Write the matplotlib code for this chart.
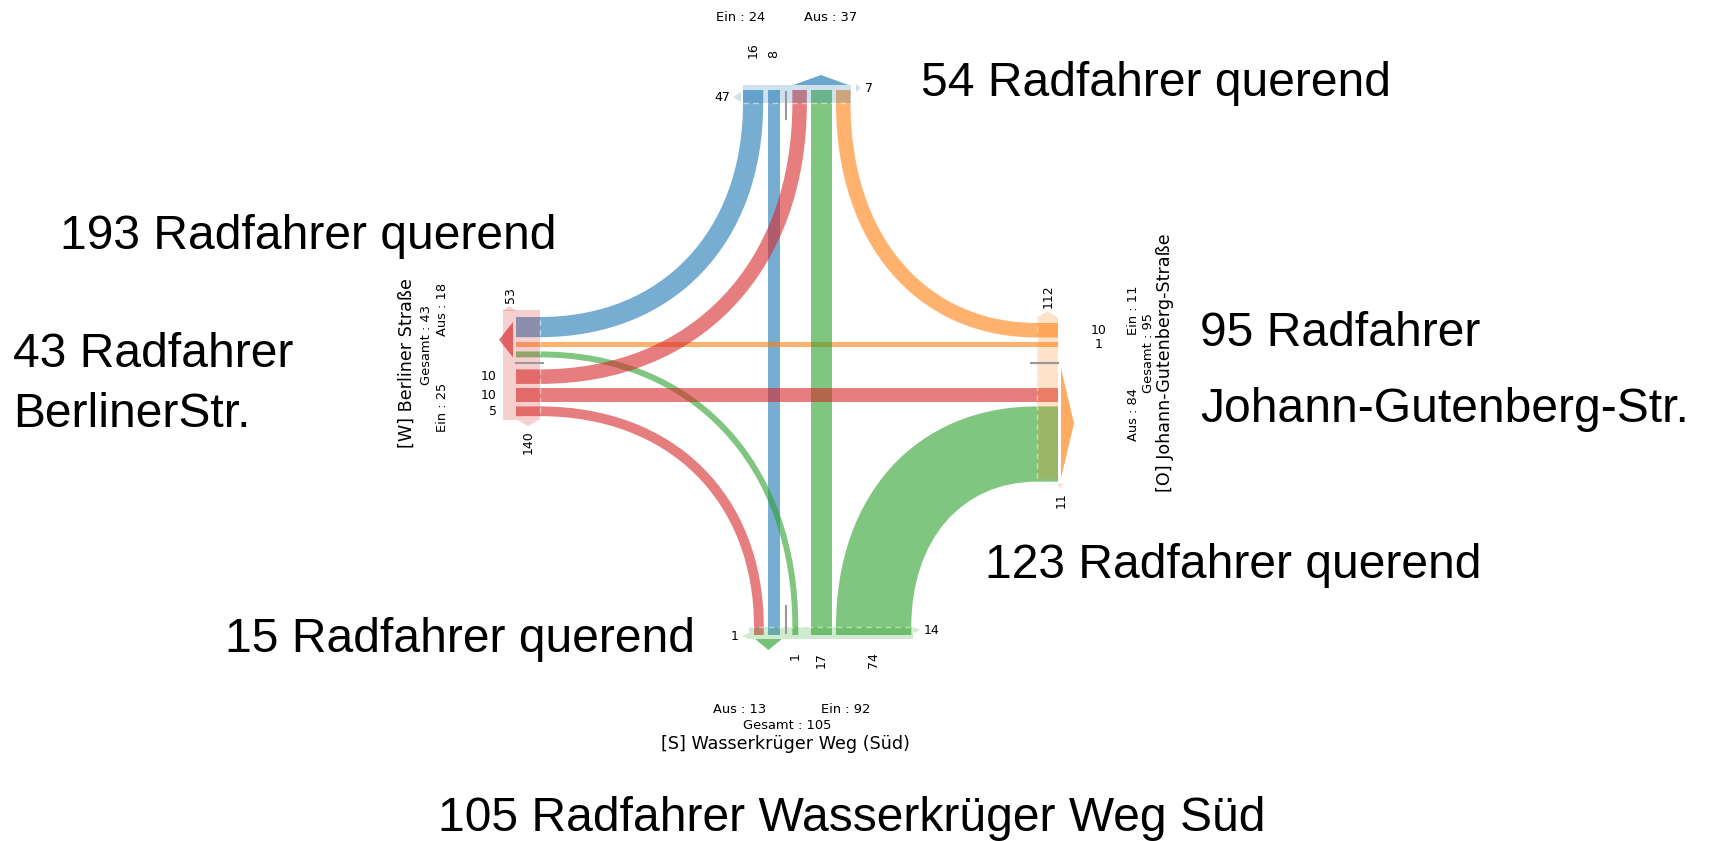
import matplotlib
matplotlib.use("Agg")
import matplotlib.pyplot as plt
from matplotlib.path import Path
from matplotlib.patches import PathPatch, Polygon, Rectangle

# ---------------- data ----------------
arm_codes = ["N", "W", "S", "O"]
arm_titles = ["", "[W] Berliner Straße", "[S] Wasserkrüger Weg (Süd)", "[O] Johann-Gutenberg-Straße"]
flow_src = ["N", "N", "W", "W", "W", "O", "O", "S", "S", "S"]
flow_dst = ["W", "S", "N", "O", "S", "N", "W", "W", "N", "O"]
flow_val = [16, 8, 10, 10, 5, 10, 1, 1, 17, 74]
side_count_1 = [47, 53, 1, 112]     # N left, W top, S left, O top
side_count_2 = [7, 140, 14, 11]     # N right, W bottom, S right, O bottom
note_counts = [54, 193, 43, 95, 123, 15, 105]
note_lines = [["Radfahrer querend"], ["Radfahrer querend"],
              ["Radfahrer", "BerlinerStr."], ["Radfahrer", "Johann-Gutenberg-Str."],
              ["Radfahrer querend"], ["Radfahrer querend"],
              ["Radfahrer Wasserkrüger Weg Süd"]]

# ---------------- layout ----------------
W_PX, H_PX = 1710, 841
fig = plt.figure(figsize=(W_PX / 100, H_PX / 100), dpi=100)
ax = fig.add_axes([0, 0, 1, 1])
ax.set_xlim(0, W_PX)
ax.set_ylim(H_PX, 0)
ax.axis("off")

plt.rcParams["font.family"] = ["DejaVu Sans"]

arm_color = {"N": "#1f77b4", "W": "#d62728", "S": "#2ca02c", "O": "#ff7f0e"}
opp = {"N": "S", "S": "N", "W": "O", "O": "W"}
vertical = {"N": True, "S": True, "W": False, "O": False}

slot_order = {
    "N": [("N", "W"), ("N", "S"), "U", ("W", "N"), ("S", "N"), ("O", "N")],
    "W": [("N", "W"), ("O", "W"), ("S", "W"), "U", ("W", "N"), ("W", "O"), ("W", "S")],
    "S": [("W", "S"), ("N", "S"), "U", ("S", "W"), ("S", "N"), ("S", "O")],
    "O": [("O", "N"), ("O", "W"), "U", ("W", "O"), ("S", "O")],
}
start = {"N": 743, "W": 317, "S": 754, "O": 323}
geo = {
    "N": dict(attach=90, inner=103, outer=85),
    "S": dict(attach=635, inner=627, outer=639),
    "W": dict(attach=516, inner=540, outer=503),
    "O": dict(attach=1058, inner=1037, outer=1058),
}
GAP, MARK_W = 4.0, 4.0


def width(v):
    return 5 + 0.95 * v


fidx = {(s, d): i for i, (s, d) in enumerate(zip(flow_src, flow_dst))}


def is_aligned(key):
    return key == "U" or opp[key[0]] == key[1]


pos = {a: {} for a in arm_codes}
for _ in range(4):
    for arm in arm_codes:
        cur = start[arm]
        for k, key in enumerate(slot_order[arm]):
            if k > 0:
                cur += GAP
            w = MARK_W if key == "U" else width(flow_val[fidx[key]])
            if is_aligned(key) and key in pos[opp[arm]]:
                cur = max(cur, pos[opp[arm]][key])
            pos[arm][key] = cur
            cur += w


def span(arm, key):
    a = pos[arm][key]
    w = MARK_W if key == "U" else width(flow_val[fidx[key]])
    return a, a + w


def pt(arm, c, which):
    v = geo[arm][which]
    return (c, v) if vertical[arm] else (v, c)


K = 0.6


def edge(A, ca, B, cb):
    pa_att, pa_in = pt(A, ca, "attach"), pt(A, ca, "inner")
    pb_in, pb_att = pt(B, cb, "inner"), pt(B, cb, "attach")
    C = (ca, cb) if vertical[A] else (cb, ca)
    p1 = (pa_in[0] + K * (C[0] - pa_in[0]), pa_in[1] + K * (C[1] - pa_in[1]))
    p2 = (pb_in[0] + K * (C[0] - pb_in[0]), pb_in[1] + K * (C[1] - pb_in[1]))
    return [pa_att, pa_in, p1, p2, pb_in, pb_att]


def flow_patch(i):
    A, B = flow_src[i], flow_dst[i]
    a0, a1 = span(A, (A, B))
    b0, b1 = span(B, (A, B))
    col = arm_color[A]
    if opp[A] == B:
        e1 = [pt(A, a0, "attach"), pt(B, b0, "attach")]
        e2 = [pt(A, a1, "attach"), pt(B, b1, "attach")]
        verts = e1 + e2[::-1] + [e1[0]]
        codes = [Path.MOVETO, Path.LINETO, Path.LINETO, Path.LINETO, Path.CLOSEPOLY]
    else:
        ca = geo[B]["inner"]
        cb = geo[A]["inner"]
        na, fa = (a0, a1) if abs(a0 - ca) < abs(a1 - ca) else (a1, a0)
        nb, fb = (b0, b1) if abs(b0 - cb) < abs(b1 - cb) else (b1, b0)
        e1 = edge(A, na, B, nb)
        e2 = edge(A, fa, B, fb)[::-1]
        verts = e1 + e2 + [e1[0]]
        codes = ([Path.MOVETO, Path.LINETO, Path.CURVE4, Path.CURVE4, Path.CURVE4, Path.LINETO] +
                 [Path.LINETO, Path.LINETO, Path.CURVE4, Path.CURVE4, Path.CURVE4, Path.LINETO] +
                 [Path.CLOSEPOLY])
    ax.add_patch(PathPatch(Path(verts, codes), facecolor=col, edgecolor="none", alpha=0.6, zorder=2))


for src in ["N", "O", "S", "W"]:
    for i in range(len(flow_val)):
        if flow_src[i] == src:
            flow_patch(i)

# ---------------- bands ----------------
band_pad = {"N": (0, 0.5), "W": (-7, 4), "S": (-5, 2), "O": (-6, -3)}
band = {}
for arm in arm_codes:
    keys = [k for k in slot_order[arm]]
    lo = min(span(arm, k)[0] for k in keys) + band_pad[arm][0]
    hi = max(span(arm, k)[1] for k in keys) + band_pad[arm][1]
    band[arm] = (lo, hi)
    o, inn = geo[arm]["outer"], geo[arm]["inner"]
    if vertical[arm]:
        r = Rectangle((lo, min(o, inn)), hi - lo, abs(inn - o))
        ax.plot([lo, hi], [inn, inn], color="white", lw=1, ls=(0, (4, 3)), alpha=0.5, zorder=3.5)
    else:
        r = Rectangle((min(o, inn), lo), abs(inn - o), hi - lo)
        ax.plot([inn, inn], [lo, hi], color="white", lw=1, ls=(0, (4, 3)), alpha=0.5, zorder=3.5)
    r.set_facecolor(arm_color[arm])
    r.set_alpha(0.22)
    r.set_edgecolor("none")
    r.set_zorder(3)
    ax.add_patch(r)

# ---------------- U-turn markers ----------------
for arm in arm_codes:
    a, b = span(arm, "U")
    c = (a + b) / 2
    att = geo[arm]["attach"]
    sgn = 1 if geo[arm]["inner"] > att else -1
    if vertical[arm]:
        ax.plot([c, c], [att + sgn * 2, att + sgn * 29], color="#999999", lw=1.5, zorder=4)
    else:
        ax.plot([att, att + sgn * 27], [c, c], color="#999999", lw=1.5, zorder=4)

# ---------------- outgoing arrows ----------------
tri_geo = {"N": (85, 75, 1, -2), "W": (513, 499, 5, 0), "S": (639, 650, 1, 1.5), "O": (1061, 1074, -19.6, -3.4)}
for arm in arm_codes:
    outs = [span(arm, (flow_src[i], arm)) for i in range(len(flow_val)) if flow_dst[i] == arm]
    lo = min(s[0] for s in outs) + tri_geo[arm][2]
    hi = max(s[1] for s in outs) + tri_geo[arm][3]
    base, apex = tri_geo[arm][0], tri_geo[arm][1]
    mid = (lo + hi) / 2
    if vertical[arm]:
        xy = [(lo, base), (hi, base), (mid, apex)]
    else:
        xy = [(base, lo), (base, hi), (apex, mid)]
    ax.add_patch(Polygon(xy, closed=True, facecolor=arm_color[arm], edgecolor="none", alpha=0.65, zorder=5))


# ---------------- small side arrows + counts ----------------
def small_tri(xy, arm):
    ax.add_patch(Polygon(xy, closed=True, facecolor=arm_color[arm], edgecolor="none", alpha=0.22, zorder=5))


fs_num = 9.0
# North
lo, hi = band["N"]
small_tri([(lo - 2, 92), (lo - 2, 102), (lo - 10, 97)], "N")
small_tri([(hi + 5, 84), (hi + 5, 92), (hi + 10, 88)], "N")
ax.text(lo - 13, 97, str(side_count_1[0]), ha="right", va="center", fontsize=fs_num)
ax.text(hi + 14, 88, str(side_count_2[0]), ha="left", va="center", fontsize=fs_num)
# West
lo, hi = band["W"]
small_tri([(503, lo + 1), (516, lo + 1), (509.5, lo - 4)], "W")
small_tri([(518, hi), (538, hi), (528, hi + 6)], "W")
ax.text(510, lo - 7, str(side_count_1[1]), rotation=90, ha="center", va="bottom", fontsize=fs_num)
ax.text(528, hi + 10, str(side_count_2[1]), rotation=90, ha="center", va="top", fontsize=fs_num)
# South
lo, hi = band["S"]
small_tri([(lo, 633), (lo, 639), (lo - 7, 636)], "S")
small_tri([(hi, 627), (hi, 633), (hi + 7, 630)], "S")
ax.text(lo - 10, 637, str(side_count_1[2]), ha="right", va="center", fontsize=fs_num)
ax.text(hi + 10, 631, str(side_count_2[2]), ha="left", va="center", fontsize=fs_num)
# East
lo, hi = band["O"]
small_tri([(1038, lo), (1057, lo), (1047.5, lo - 6)], "O")
small_tri([(1057, hi + 5), (1063, hi + 5), (1060, hi + 10)], "O")
ax.text(1048, lo - 9, str(side_count_1[3]), rotation=90, ha="center", va="bottom", fontsize=fs_num)
ax.text(1061, hi + 14, str(side_count_2[3]), rotation=90, ha="center", va="top", fontsize=fs_num)

# ---------------- inflow value labels ----------------
for i in range(len(flow_val)):
    arm = flow_src[i]
    a, b = span(arm, (arm, flow_dst[i]))
    c = (a + b) / 2
    s = str(flow_val[i])
    if arm == "N":
        ax.text(c, 58, s, rotation=90, ha="center", va="bottom", fontsize=fs_num)
    elif arm == "S":
        ax.text(c, 652, s, rotation=90, ha="center", va="top", fontsize=fs_num)
    elif arm == "W":
        ax.text(497, c, s, ha="right", va="center", fontsize=fs_num)
    else:
        ax.text(1099, c, s, ha="center", va="center", fontsize=fs_num)

# ---------------- arm statistics ----------------
ein = {a: sum(v for s, v in zip(flow_src, flow_val) if s == a) for a in arm_codes}
aus = {a: sum(v for d, v in zip(flow_dst, flow_val) if d == a) for a in arm_codes}
fs_st, fs_title = 9.4, 12.6

ax.text(741, 17, f"Ein : {ein['N']}", ha="center", va="center", fontsize=fs_st)
ax.text(831, 17, f"Aus : {aus['N']}", ha="center", va="center", fontsize=fs_st)

ax.text(407, 363, arm_titles[1], rotation=90, ha="center", va="center", fontsize=fs_title)
ax.text(426, 345, f"Gesamt : {ein['W'] + aus['W']}", rotation=90, ha="center", va="center", fontsize=fs_st)
ax.text(442, 309, f"Aus : {aus['W']}", rotation=90, ha="center", va="center", fontsize=fs_st)
ax.text(442, 407, f"Ein : {ein['W']}", rotation=90, ha="center", va="center", fontsize=fs_st)

ax.text(740, 713, f"Aus : {aus['S']}", ha="center", va="baseline", fontsize=fs_st)
ax.text(846, 713, f"Ein : {ein['S']}", ha="center", va="baseline", fontsize=fs_st)
ax.text(787, 729, f"Gesamt : {ein['S'] + aus['S']}", ha="center", va="baseline", fontsize=fs_st)
ax.text(785, 749, arm_titles[2], ha="center", va="baseline", fontsize=fs_title)

ax.text(1133, 310, f"Ein : {ein['O']}", rotation=90, ha="center", va="center", fontsize=fs_st)
ax.text(1148, 353, f"Gesamt : {ein['O'] + aus['O']}", rotation=90, ha="center", va="center", fontsize=fs_st)
ax.text(1133, 414, f"Aus : {aus['O']}", rotation=90, ha="center", va="center", fontsize=fs_st)
ax.text(1165, 363, arm_titles[3], rotation=90, ha="center", va="center", fontsize=fs_title)

# ---------------- big annotations ----------------
note_pos = [(921, [96]), (60, [249]), (13, [367, 427]), (1200, [346, 422]),
            (985, [578]), (225, [652]), (438, [831])]
for n, lines, (x, ys) in zip(note_counts, note_lines, note_pos):
    for j, (line, y) in enumerate(zip(lines, ys)):
        txt = f"{n} {line}" if j == 0 else line
        ax.text(x, y, txt, ha="left", va="baseline", fontsize=34.6,
                family=["Liberation Sans", "DejaVu Sans"], color="black")

fig.savefig("out.png", dpi=100)
